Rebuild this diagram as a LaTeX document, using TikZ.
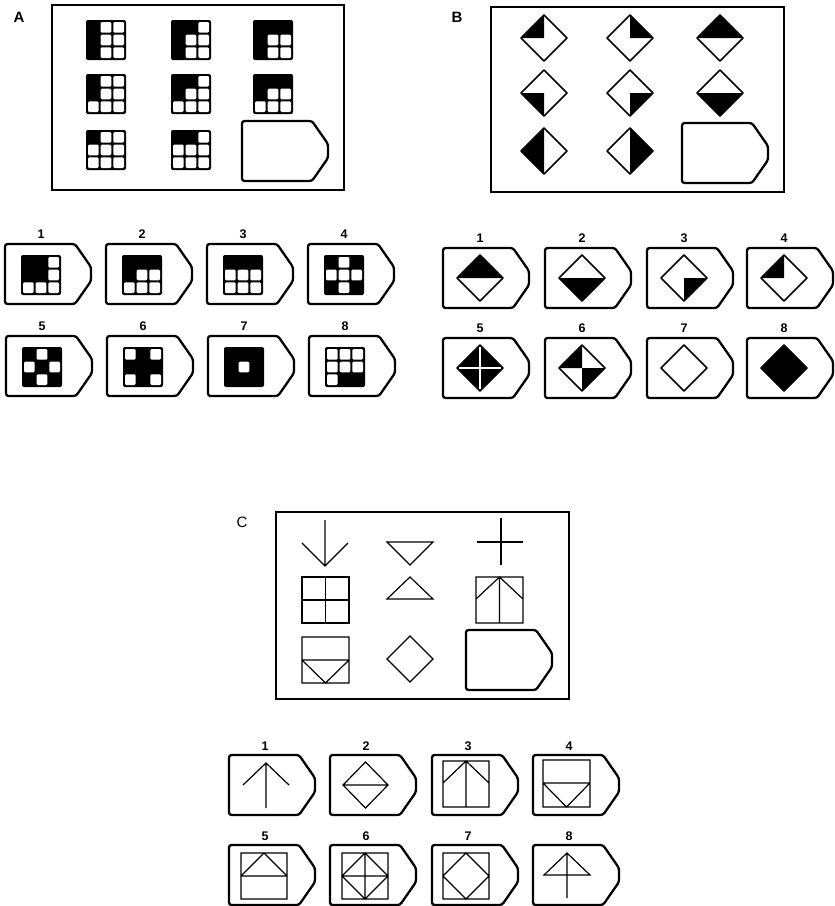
\documentclass[tikz,border=0pt]{standalone}
\usepackage{fontspec}
\setmainfont{Liberation Sans}
\usetikzlibrary{calc}

% 3x3 cell grid on black ground, centre #1,#2, white cells as row/col
\newcommand{\cellgrid}[3]{%
  \fill[rounded corners=2pt] (#1-20,#2-20) rectangle (#1+20,#2+20);
  \foreach \r/\c in {#3}
    \fill[white, rounded corners=1.2pt] (#1-18+\c*12.67,#2-18+\r*12.67) rectangle ++(10.67,10.67);
}
% answer card, top left corner at #1,#2
\newcommand{\answertag}[2]{%
  \draw[tagbox] (#1,#2) -- ++(70,0) -- ++(16,23) -- ++(0,14) -- ++(-16,23) -- ++(-70,0) -- cycle;
}
% rhomb outline and black quarters (0 = lower right, 90 = lower left, 180 = upper left, 270 = upper right)
\newcommand{\rhomb}[2]{%
  \draw[rhombline] (#1,#2) +(0:23) -- +(90:23) -- +(180:23) -- +(270:23) -- cycle;
}
\newcommand{\quarters}[3]{%
  \foreach \a in {#3}
    \fill (#1,#2) -- +(\a:23) -- +(\a+90:23) -- cycle;
}

\begin{document}
\begin{tikzpicture}[x=1pt, y=-1pt,
    frame/.style={draw, line width=1.2pt},
    tagbox/.style={draw, line width=2.3pt, rounded corners=2.5pt, line join=round},
    rhombline/.style={draw, line width=1.7pt, line join=round},
    fig/.style={draw, line width=1.2pt},
    panel/.style={font=\bfseries\fontsize{15}{15}\selectfont},
    num/.style={font=\bfseries\fontsize{12.5}{12.5}\selectfont, inner sep=0pt}
]
\useasboundingbox (0,0) rectangle (835,906);

% ---------- A ----------
\node[panel] (labA) at (19,17) {A};
\draw[frame] (52,5) rectangle (344,190);
\cellgrid{106}{40}{0/1,0/2,1/1,1/2,2/1,2/2}
\cellgrid{191}{40}{0/2,1/1,1/2,2/1,2/2}
\cellgrid{273}{40}{1/1,1/2,2/1,2/2}
\cellgrid{106}{94}{0/1,0/2,1/1,1/2,2/0,2/1,2/2}
\cellgrid{191}{94}{0/2,1/1,1/2,2/0,2/1,2/2}
\cellgrid{273}{94}{1/1,1/2,2/0,2/1,2/2}
\cellgrid{106}{150}{0/1,0/2,1/0,1/1,1/2,2/0,2/1,2/2}
\cellgrid{191}{150}{0/2,1/0,1/1,1/2,2/0,2/1,2/2}
\answertag{242}{121}

\foreach \i/\x/\y in {1/5/244,2/106/244,3/207/244,4/308/244,5/6/336,6/107/336,7/208/336,8/309/336}{
  \answertag{\x}{\y}
  \node[num] (nA\i) at (\x+36,\y-10) {\i};
}
\cellgrid{41}{275}{0/2,1/2,2/0,2/1,2/2}
\cellgrid{142}{275}{1/1,1/2,2/0,2/1,2/2}
\cellgrid{243}{275}{1/0,1/1,1/2,2/0,2/1,2/2}
\cellgrid{344}{275}{0/1,1/0,1/1,1/2,2/1}
\cellgrid{42}{367}{0/1,1/0,1/2,2/1}
\cellgrid{143}{367}{0/0,0/2,2/0,2/2}
\cellgrid{244}{367}{1/1}
\cellgrid{345}{367}{0/0,0/1,0/2,1/0,1/1,1/2,2/0}

% ---------- B ----------
\node[panel] (labB) at (457,17) {B};
\draw[frame] (491,7) rectangle (784,192);
\quarters{544}{38}{180}       \rhomb{544}{38}
\quarters{630}{38}{270}       \rhomb{630}{38}
\quarters{720}{38}{180,270}   \rhomb{720}{38}
\quarters{544}{93}{90}        \rhomb{544}{93}
\quarters{630}{93}{0}         \rhomb{630}{93}
\quarters{720}{93}{0,90}      \rhomb{720}{93}
\quarters{544}{151}{90,180}   \rhomb{544}{151}
\quarters{630}{151}{270,0}    \rhomb{630}{151}
\answertag{682}{123}

\foreach \i/\x/\y in {1/443/248,2/545/248,3/647/248,4/747/248,5/443/338,6/545/338,7/647/338,8/747/338}{
  \answertag{\x}{\y}
  \node[num] (nB\i) at (\x+37,\y-10) {\i};
}
\quarters{480}{278}{180,270}  \rhomb{480}{278}
\quarters{582}{278}{0,90}     \rhomb{582}{278}
\quarters{684}{278}{0}        \rhomb{684}{278}
\quarters{784}{278}{180}      \rhomb{784}{278}
\quarters{480}{368}{0,90,180,270}
\draw[white, line width=1.6pt] (480,347) -- (480,389) (459,368) -- (501,368);
\rhomb{480}{368}
\quarters{582}{368}{180,0}    \rhomb{582}{368}
\rhomb{684}{368}
\quarters{784}{368}{0,90,180,270} \rhomb{784}{368}

% ---------- C ----------
\node[font=\fontsize{15}{15}\selectfont] (labC) at (242,522) {C};
\draw[frame] (276,512) rectangle (569,699);
\draw[fig] (325,520) -- (325,566) (302,543) -- (325,566) -- (348,543);
\draw[fig] (387,542) -- (433,542) -- (410,565) -- cycle;
\draw[fig] (477,542) -- (523,542) (501,518) -- (501,565);
\draw[fig] (302,577) rectangle (349,623) (325.5,577) -- (325.5,623) (302,600) -- (349,600);
\draw[fig] (387,599) -- (433,599) -- (410,577) -- cycle;
\draw[fig] (476,577) rectangle (523,623) (499.5,577) -- (499.5,623) (476,599) -- (499.5,577) -- (523,599);
\draw[fig] (302,637) rectangle (349,683) (302,660) -- (349,660) (302,660) -- (325.5,683) -- (349,660);
\draw[fig] (387,659) -- (410,636) -- (433,659) -- (410,682) -- cycle;
\answertag{466}{630}

\foreach \i/\x/\y in {1/229/755,2/330/755,3/432/755,4/533/755,5/229/845,6/330/845,7/432/845,8/533/845}{
  \answertag{\x}{\y}
  \node[num] (nC\i) at (\x+36,\y-9) {\i};
}
\begin{scope}[shift={(229,755)}]
  \draw[fig] (37,8) -- (37,53) (14,30) -- (37,8) -- (60,30);
\end{scope}
\begin{scope}[shift={(330,755)}]
  \draw[fig] (13,30) -- (35.5,7) -- (58,30) -- (35.5,53) -- cycle (13,30) -- (58,30);
\end{scope}
\begin{scope}[shift={(432,755)}]
  \draw[fig] (11,6) rectangle (57,52) (34,6) -- (34,52) (11,28) -- (34,6) -- (57,28);
\end{scope}
\begin{scope}[shift={(533,755)}]
  \draw[fig] (10,5) rectangle (57,52) (10,28) -- (57,28) (10,28) -- (33.5,52) -- (57,28);
\end{scope}
\begin{scope}[shift={(229,845)}]
  \draw[fig] (12,8) rectangle (58,54) (12,31) -- (58,31) (12,31) -- (35,8) -- (58,31);
\end{scope}
\begin{scope}[shift={(330,845)}]
  \draw[fig] (12,8) rectangle (58,54) (12,31) -- (35,8) -- (58,31) -- (35,54) -- cycle
    (35,8) -- (35,54) (12,31) -- (58,31);
\end{scope}
\begin{scope}[shift={(432,845)}]
  \draw[fig] (11,8) rectangle (57,54) (11,31) -- (34,8) -- (57,31) -- (34,54) -- cycle;
\end{scope}
\begin{scope}[shift={(533,845)}]
  \draw[fig] (11,30) -- (34,8) -- (57,30) -- cycle (34,8) -- (34,53);
\end{scope}
\end{tikzpicture}
\end{document}
